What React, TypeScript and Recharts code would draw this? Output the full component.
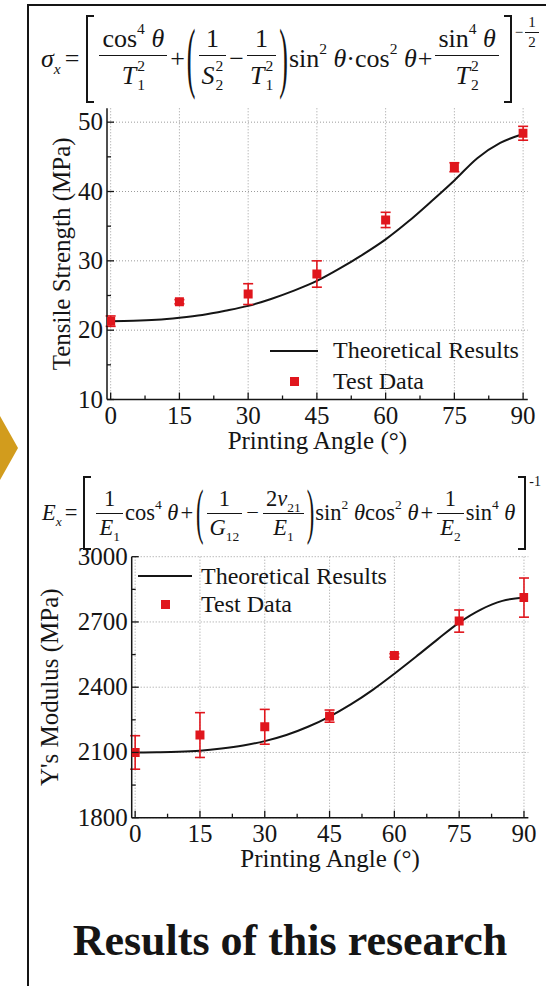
import React from 'react'
import { ComposedChart, Line, Scatter, ErrorBar, XAxis, YAxis, ZAxis, CartesianGrid, Legend } from 'recharts'

const SERIF = '"Liberation Serif", "Times New Roman", Times, serif'
const INK = '#151515'
const RED = '#e0161d'
const GRID = '#9c9c9c'

// printing angle (deg)
const angleTicks = [0, 15, 30, 45, 60, 75, 90]
const angleMinor = [7.5, 22.5, 37.5, 52.5, 67.5, 82.5]
const testAngles = [0, 15, 30, 45, 60, 75, 90]
const curveAngles = [0, 5, 10, 15, 20, 25, 30, 35, 40, 45, 50, 55, 60, 65, 70, 75, 80, 85, 90]

// tensile strength (MPa)
const strengthTicks = [10, 20, 30, 40, 50]
const strengthMinor = [15, 25, 35, 45]
const strengthTest = [21.3, 24.1, 25.2, 28.1, 35.9, 43.5, 48.4]
const strengthErr = [0.75, 0.3, 1.5, 1.9, 1.1, 0.65, 1.0]
const strengthTheory = [21.3, 21.35, 21.5, 21.8, 22.2, 22.8, 23.5, 24.5, 25.7, 27.1, 28.9, 30.9, 33.1, 35.7, 38.6, 41.6, 44.8, 47.0, 48.3]

// Y's modulus (MPa)
const modulusTicks = [1800, 2100, 2400, 2700, 3000]
const modulusMinor = [1950, 2250, 2550, 2850]
const modulusTest = [2100, 2180, 2218, 2267, 2546, 2704, 2812]
const modulusErr = [77, 103, 80, 28, 8, 51, 90]
const modulusTheory = [2100, 2101, 2103, 2108, 2118, 2132, 2152, 2180, 2218, 2265, 2322, 2388, 2462, 2540, 2620, 2697, 2757, 2797, 2812]

const xDomain: [number, number] = [-0.8, 91]
const allAngles = [...angleTicks, ...angleMinor].sort((a, b) => a - b)

type Side = 'bottom' | 'top' | 'left' | 'right'

const axisTick = (side: Side, majors: number[]) => (p: any) => {
  const v = p.payload.value
  const major = majors.includes(v)
  const len = major ? 7 : 4
  const dx = side === 'left' ? len : side === 'right' ? -len : 0
  const dy = side === 'bottom' ? -len : side === 'top' ? len : 0
  return (
    <g>
      <line x1={p.x} y1={p.y} x2={p.x + dx} y2={p.y + dy} stroke={INK} strokeWidth={1.3} />
      {major && side === 'bottom' && (
        <text x={p.x} y={p.y + 24} textAnchor="middle" fontFamily={SERIF} fontSize={25} fill={INK}>{v}</text>
      )}
      {major && side === 'left' && (
        <text x={p.x - 4} y={p.y + 8} textAnchor="end" fontFamily={SERIF} fontSize={25} fill={INK}>{v}</text>
      )}
    </g>
  )
}

function LegendBox({ lineW, gap, row }: { lineW: number; gap: number; row: number }) {
  return (
    <div style={{ fontFamily: SERIF, fontSize: 24, color: INK, whiteSpace: 'nowrap' }}>
      <div style={{ display: 'flex', alignItems: 'center', height: row }}>
        <span style={{ width: lineW, borderTop: `2px solid ${INK}`, marginRight: gap }} />
        <span>Theoretical Results</span>
      </div>
      <div style={{ display: 'flex', alignItems: 'center', height: row }}>
        <span style={{ width: lineW, display: 'flex', justifyContent: 'center', marginRight: gap }}>
          <span style={{ width: 9, height: 9, background: RED }} />
        </span>
        <span>Test Data</span>
      </div>
    </div>
  )
}

type PanelProps = {
  top: number
  height: number
  margin: { top: number; right: number; bottom: number; left: number }
  yWidth: number
  yDomain: [number, number]
  yTicks: number[]
  yMinor: number[]
  yTitle: string
  yTitleShift: number
  theory: number[]
  test: number[]
  err: number[]
  legend: { left: number; top: number; lineW: number; gap: number; row: number }
}

function Panel(props: PanelProps) {
  const curveData = curveAngles.map((a, i) => ({ a, v: props.theory[i] }))
  const testData = testAngles.map((a, i) => ({ a, v: props.test[i], err: props.err[i] }))
  const allY = [...props.yTicks, ...props.yMinor].sort((a, b) => a - b)
  const frame = { stroke: INK, strokeWidth: 1.5 }
  return (
    <div style={{ position: 'absolute', left: 0, top: props.top }}>
      <ComposedChart width={546} height={props.height} margin={props.margin}>
        <CartesianGrid
          stroke={GRID}
          strokeDasharray="1 2"
          verticalValues={angleTicks}
          horizontalValues={props.yTicks}
        />
        <XAxis
          type="number"
          dataKey="a"
          domain={xDomain}
          ticks={allAngles}
          interval={0}
          tickSize={0}
          tickMargin={0}
          tickLine={false}
          axisLine={frame}
          tick={axisTick('bottom', angleTicks)}
          height={52}
          allowDataOverflow
          label={{ value: 'Printing Angle (°)', position: 'insideBottom', offset: 3, fontFamily: SERIF, fontSize: 25, fill: INK }}
        />
        <XAxis
          xAxisId="top"
          orientation="top"
          type="number"
          domain={xDomain}
          ticks={allAngles}
          interval={0}
          tickSize={0}
          tickMargin={0}
          tickLine={false}
          axisLine={frame}
          tick={axisTick('top', angleTicks)}
          height={0}
          allowDataOverflow
        />
        <YAxis
          type="number"
          domain={props.yDomain}
          ticks={allY}
          interval={0}
          tickSize={0}
          tickMargin={0}
          tickLine={false}
          axisLine={frame}
          tick={axisTick('left', props.yTicks)}
          width={props.yWidth}
          allowDataOverflow
          label={{ value: props.yTitle, angle: -90, position: 'center', dx: props.yTitleShift, fontFamily: SERIF, fontSize: 25, fill: INK }}
        />
        <YAxis
          yAxisId="right"
          orientation="right"
          type="number"
          domain={props.yDomain}
          ticks={allY}
          interval={0}
          tickSize={0}
          tickMargin={0}
          tickLine={false}
          axisLine={frame}
          tick={axisTick('right', props.yTicks)}
          width={0}
          allowDataOverflow
        />
        <ZAxis range={[81, 81]} />
        <Line
          data={curveData}
          dataKey="v"
          type="monotone"
          stroke={INK}
          strokeWidth={2}
          dot={false}
          isAnimationActive={false}
        />
        <Scatter data={testData} dataKey="v" fill={RED} shape="square" isAnimationActive={false}>
          <ErrorBar dataKey="err" direction="y" width={5} stroke={RED} strokeWidth={1.6} isAnimationActive={false} />
        </Scatter>
        <Legend
          layout="horizontal"
          verticalAlign="middle"
          align="center"
          wrapperStyle={{ left: props.legend.left, top: props.legend.top, width: 'auto' }}
          content={() => <LegendBox lineW={props.legend.lineW} gap={props.legend.gap} row={props.legend.row} />}
        />
      </ComposedChart>
    </div>
  )
}

// formula helpers
const Sup = ({ children }: { children: React.ReactNode }) => (
  <span style={{ fontSize: '0.6em', verticalAlign: '0.85em', lineHeight: 0 }}>{children}</span>
)
const Sub = ({ children }: { children: React.ReactNode }) => (
  <span style={{ fontSize: '0.6em', verticalAlign: '-0.45em', lineHeight: 0 }}>{children}</span>
)
const SupSub = ({ sup, sub }: { sup: string; sub: string }) => (
  <span style={{ display: 'inline-flex', flexDirection: 'column', fontSize: '0.6em', lineHeight: 1.2, verticalAlign: '0.85em', marginLeft: 1 }}>
    <span>{sup}</span>
    <span>{sub}</span>
  </span>
)
const Frac = ({ num, den }: { num: React.ReactNode; den: React.ReactNode }) => (
  <span style={{ display: 'inline-flex', flexDirection: 'column', textAlign: 'center', margin: '0 2px' }}>
    <span style={{ padding: '0 3px 1px' }}>{num}</span>
    <span style={{ borderTop: `1.5px solid ${INK}`, padding: '1px 3px 0' }}>{den}</span>
  </span>
)
const Bracket = ({ side, h }: { side: 'l' | 'r'; h: number }) => (
  <span
    style={{
      width: 8,
      height: h,
      boxSizing: 'border-box',
      borderTop: `2px solid ${INK}`,
      borderBottom: `2px solid ${INK}`,
      borderLeft: side === 'l' ? `2px solid ${INK}` : 'none',
      borderRight: side === 'r' ? `2px solid ${INK}` : 'none',
      margin: '0 3px',
    }}
  />
)
const Paren = ({ ch, s }: { ch: string; s: number }) => (
  <span style={{ display: 'inline-block', transform: `scaleY(${s})`, margin: '0 1px' }}>{ch}</span>
)
const Op = ({ ch, m = 2 }: { ch: string; m?: number }) => <span style={{ margin: `0 ${m}px` }}>{ch}</span>
const th = <i>θ</i>

function FormulaStrength() {
  return (
    <div
      style={{
        position: 'absolute', left: 41, top: 14, height: 90, display: 'flex', alignItems: 'center',
        fontFamily: SERIF, fontSize: 26, color: INK, whiteSpace: 'nowrap',
      }}
    >
      <span><i>σ</i><Sub><i>x</i></Sub></span>
      <Op ch="=" m={4} />
      <Bracket side="l" h={88} />
      <Frac num={<>cos<Sup>4</Sup> {th}</>} den={<><i>T</i><SupSub sup="2" sub="1" /></>} />
      <Op ch="+" m={1} />
      <Paren ch="(" s={3} />
      <Frac num="1" den={<><i>S</i><SupSub sup="2" sub="2" /></>} />
      <Op ch="−" m={1} />
      <Frac num="1" den={<><i>T</i><SupSub sup="2" sub="1" /></>} />
      <Paren ch=")" s={3} />
      <span>sin<Sup>2</Sup> {th}·cos<Sup>2</Sup> {th}</span>
      <Op ch="+" m={1} />
      <Frac num={<>sin<Sup>4</Sup> {th}</>} den={<><i>T</i><SupSub sup="2" sub="2" /></>} />
      <Bracket side="r" h={88} />
      <span style={{ alignSelf: 'flex-start', marginTop: 0, display: 'flex', alignItems: 'center', fontSize: 15 }}>
        <span>−</span>
        <Frac num="1" den="2" />
      </span>
    </div>
  )
}

function FormulaModulus() {
  return (
    <div
      style={{
        position: 'absolute', left: 42, top: 474, height: 78, display: 'flex', alignItems: 'center',
        fontFamily: SERIF, fontSize: 22.5, color: INK, whiteSpace: 'nowrap',
      }}
    >
      <span><i>E</i><Sub><i>x</i></Sub></span>
      <Op ch="=" m={3} />
      <Bracket side="l" h={74} />
      <Frac num="1" den={<><i>E</i><Sub>1</Sub></>} />
      <span>cos<Sup>4</Sup> {th}</span>
      <Op ch="+" />
      <Paren ch="(" s={2.7} />
      <Frac num="1" den={<><i>G</i><Sub>12</Sub></>} />
      <Op ch="−" />
      <Frac num={<>2<i>ν</i><Sub>21</Sub></>} den={<><i>E</i><Sub>1</Sub></>} />
      <Paren ch=")" s={2.7} />
      <span>sin<Sup>2</Sup> {th}cos<Sup>2</Sup> {th}</span>
      <Op ch="+" />
      <Frac num="1" den={<><i>E</i><Sub>2</Sub></>} />
      <span>sin<Sup>4</Sup> {th}</span>
      <Bracket side="r" h={74} />
      <span style={{ alignSelf: 'flex-start', marginTop: 0, fontSize: 14 }}>-1</span>
    </div>
  )
}

export default function App() {
  return (
    <div style={{ position: 'absolute', left: 0, top: 0, width: 546, height: 986, background: '#fff', overflow: 'hidden' }}>
      <div
        style={{
          position: 'absolute', left: 27, top: 4, width: 530, height: 990,
          borderLeft: `2px solid ${INK}`, borderTop: `2px solid ${INK}`,
        }}
      />
      <svg style={{ position: 'absolute', left: 0, top: 400 }} width={24} height={100}>
        <polygon points="0,16 18,48 0,80" fill="#d29c1d" />
      </svg>
      <FormulaStrength />
      <Panel
        top={100}
        height={360}
        margin={{ top: 8.3, right: 18.3, bottom: 8.5, left: 15 }}
        yWidth={92}
        yDomain={[10, 52]}
        yTicks={strengthTicks}
        yMinor={strengthMinor}
        yTitle="Tensile Strength (MPa)"
        yTitleShift={0}
        theory={strengthTheory}
        test={strengthTest}
        err={strengthErr}
        legend={{ left: 270, top: 235, lineW: 48, gap: 15, row: 31 }}
      />
      <FormulaModulus />
      <Panel
        top={540}
        height={342}
        margin={{ top: 16.7, right: 17.7, bottom: 12.3, left: -9.7 }}
        yWidth={141.4}
        yDomain={[1800, 3000]}
        yTicks={modulusTicks}
        yMinor={modulusMinor}
        yTitle="Y's Modulus (MPa)"
        yTitleShift={-12}
        theory={modulusTheory}
        test={modulusTest}
        err={modulusErr}
        legend={{ left: 138, top: 22, lineW: 54, gap: 9, row: 28 }}
      />
      <div
        style={{
          position: 'absolute', left: 31, top: 916, width: 518, textAlign: 'center',
          fontFamily: SERIF, fontWeight: 700, fontSize: 44, lineHeight: '50px', color: INK,
        }}
      >
        Results of this research
      </div>
    </div>
  )
}
